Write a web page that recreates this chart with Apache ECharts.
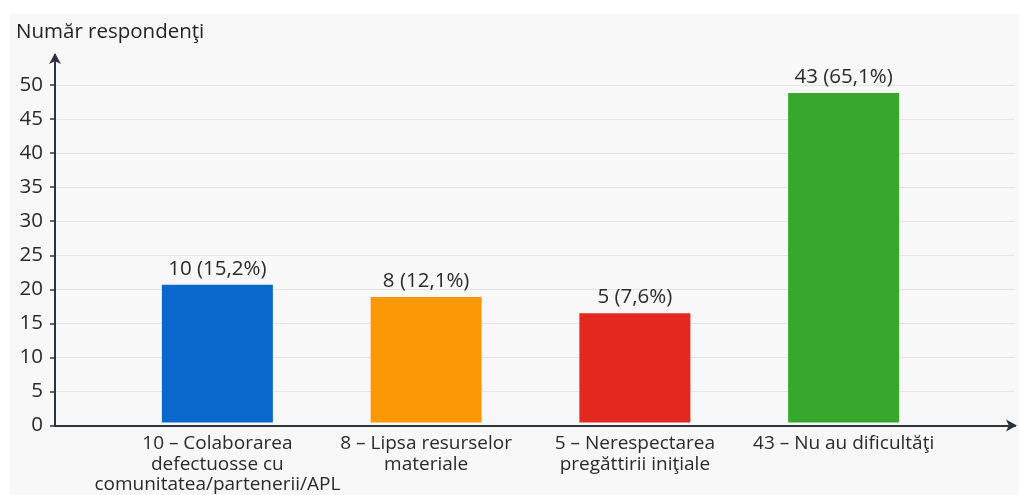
<!DOCTYPE html>
<html>
<head>
<meta charset="utf-8">
<script src="https://cdn.jsdelivr.net/npm/echarts@6/dist/echarts.min.js"></script>
<style>
html,body{margin:0;padding:0;background:#ffffff;}
#bg{position:absolute;left:10px;top:14px;right:0;bottom:0;background:#f8f8f8;}
#chart{position:absolute;left:0;top:0;width:1019px;height:495px;}
</style>
</head>
<body>
<div id="bg"></div>
<div id="chart"></div>
<script>
const categories = [
  "10 – Colaborarea\ndefectuosse cu\ncomunitatea/partenerii/APL",
  "8 – Lipsa resurselor\nmateriale",
  "5 – Nerespectarea\npregăttirii iniţiale",
  "43 – Nu au dificultăţi"
];
const barHeights = [20.4, 18.6, 16.2, 48.8];
const valueLabels = ["10 (15,2%)", "8 (12,1%)", "5 (7,6%)", "43 (65,1%)"];
const barColors = ["#0a67cc", "#fa9905", "#e2281f", "#36a92c"];
const yTicks = { min: 0, max: 50, interval: 5 };
const yTitle = "Număr respondenţi";

const chart = echarts.init(document.getElementById('chart'), null, { renderer: 'canvas' });
const FONT = '"Open Sans", "Noto Sans", sans-serif';
const TOP = 85, BOTTOM = 69.5;

chart.setOption({
  backgroundColor: 'transparent',
  animation: false,
  title: {
    text: yTitle, left: 11, top: 17,
    textStyle: { fontFamily: FONT, fontSize: 20.5, fontWeight: 'normal', color: '#222' }
  },
  grid: [
    { left: 55, right: 4, top: TOP, bottom: BOTTOM },
    { left: 113, right: 71, top: TOP, bottom: BOTTOM },
    { left: 55, right: 4, top: 55, bottom: BOTTOM }
  ],
  xAxis: [
    { gridIndex: 0, type: 'category', data: ['a'], show: false },
    {
      gridIndex: 1, type: 'category', data: categories,
      axisLine: { show: false }, axisTick: { show: false },
      axisLabel: {
        interval: 0, margin: 11, fontFamily: FONT, fontSize: 19, 
        color: '#2a2a2a', lineHeight: 20.5
      }
    },
    {
      gridIndex: 2, type: 'value', min: 0, max: 1,
      axisLabel: { show: false }, axisTick: { show: false }, splitLine: { show: false },
      axisLine: { show: true, symbol: ['none', 'arrow'], symbolSize: [9, 11], symbolOffset: [0, 2],
        lineStyle: { color: '#2b3440', width: 2 } }
    }
  ],
  yAxis: [
    {
      gridIndex: 0, type: 'value', min: yTicks.min, max: yTicks.max, interval: yTicks.interval,
      axisLine: { show: false },
      axisTick: { show: true, length: 5, lineStyle: { color: '#2b3440', width: 1.5 } },
      axisLabel: { fontFamily: FONT, fontSize: 20.5, color: '#2a2a2a', margin: 12 },
      splitLine: { show: true, lineStyle: { color: '#e4e4e4', width: 1 } }
    },
    { gridIndex: 1, type: 'value', min: yTicks.min, max: yTicks.max, show: false },
    {
      gridIndex: 2, type: 'value', min: 0, max: 1,
      axisLabel: { show: false }, axisTick: { show: false }, splitLine: { show: false },
      axisLine: { show: true, symbol: ['none', 'arrow'], symbolSize: [9, 11], symbolOffset: [0, 2],
        lineStyle: { color: '#2b3440', width: 2 } }
    }
  ],
  series: [{
    type: 'bar', xAxisIndex: 1, yAxisIndex: 1, barWidth: 111,
    data: barHeights.map((v, i) => ({ value: v, itemStyle: { color: barColors[i] } })),
    label: {
      show: true, position: 'top', distance: 5,
      fontFamily: FONT, fontSize: 20.5, color: '#2a2a2a',
      formatter: p => valueLabels[p.dataIndex]
    }
  }]
});
</script>
</body>
</html>
